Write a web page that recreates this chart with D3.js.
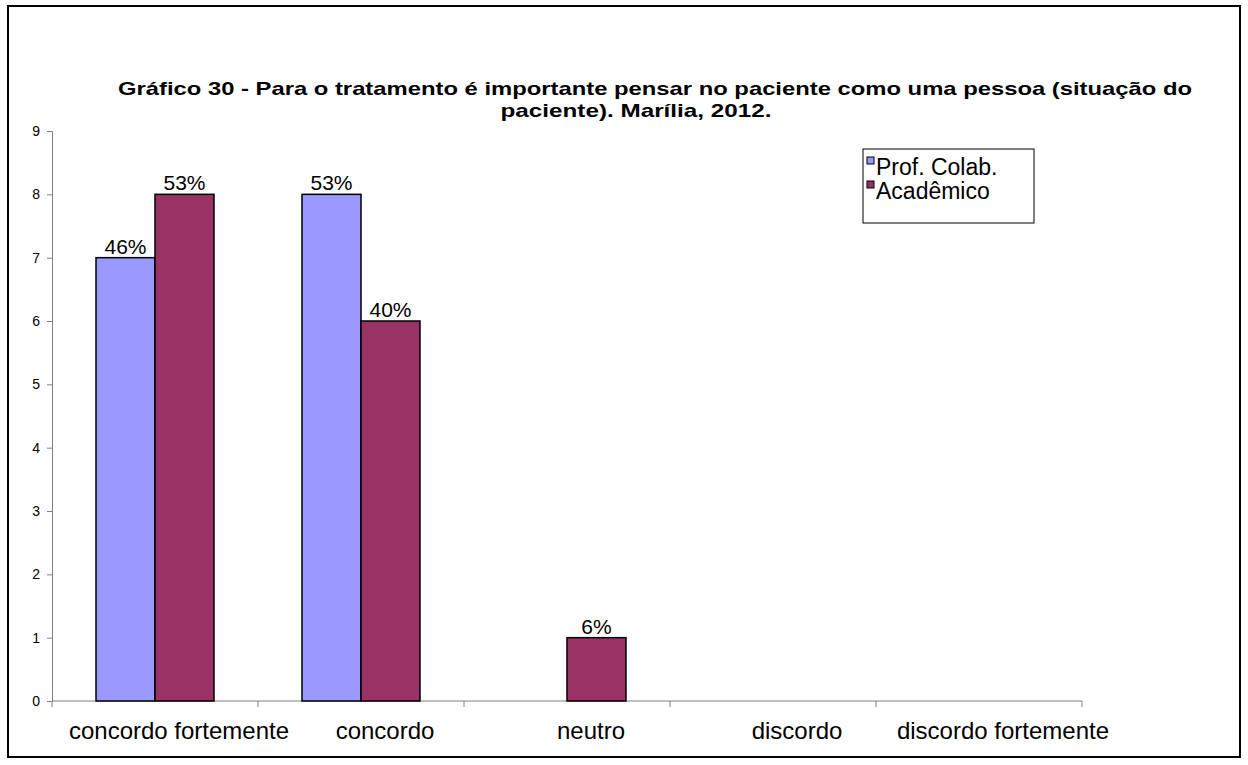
<!DOCTYPE html>
<html><head><meta charset="utf-8">
<script src="https://cdn.jsdelivr.net/npm/d3@7"></script>
<style>body{margin:0;background:#fff}svg{display:block}text{font-family:"Liberation Sans",Arial,sans-serif}</style>
</head><body>
<svg id="c" width="1248" height="765"></svg>
<script>
const categories = ["concordo fortemente","concordo","neutro","discordo","discordo fortemente"];
const seriesNames = ["Prof. Colab.","Acadêmico"];
const profValues = [7,8,0,0,0];
const acadValues = [8,6,1,0,0];
const profLabels = ["46%","53%","","",""];
const acadLabels = ["53%","40%","6%","",""];
const yTicks = [0,1,2,3,4,5,6,7,8,9];
const titleLines = ["Gráfico 30 - Para o tratamento é importante pensar no paciente como uma pessoa (situação do","paciente). Marília, 2012."];
const colors = ["#9999FF","#993366"];

const svg = d3.select("#c");
svg.append("rect").attr("x",8).attr("y",6).attr("width",1232).attr("height",751)
  .attr("fill","#fff").attr("stroke","#000").attr("stroke-width",2);

const x0 = d3.scaleBand().domain(categories).range([52,1082]).padding(0);
const x1 = d3.scaleBand().domain(seriesNames).range([0,x0.bandwidth()]).paddingInner(0).paddingOuter(0.746);
const y = d3.scaleLinear().domain([0,9]).range([701,131]);

// title
svg.append("text").attr("x",655).attr("y",95).attr("text-anchor","middle")
  .attr("font-size",19).attr("font-weight","bold")
  .attr("textLength",1074).attr("lengthAdjust","spacingAndGlyphs").text(titleLines[0]);
svg.append("text").attr("x",636).attr("y",117).attr("text-anchor","middle")
  .attr("font-size",19).attr("font-weight","bold")
  .attr("textLength",271).attr("lengthAdjust","spacingAndGlyphs").text(titleLines[1]);

// axes
const yAxis = svg.append("g").attr("transform","translate(52,0)")
  .call(d3.axisLeft(y).tickValues(yTicks).tickSize(5).tickPadding(7).tickFormat(d3.format("d")));
yAxis.selectAll("path,line").attr("stroke","#808080");
yAxis.selectAll("text").attr("font-size",14).attr("fill","#000").attr("font-family","Liberation Sans, Arial");

const xAxis = svg.append("g").attr("transform","translate(0,701)");
xAxis.append("line").attr("x1",x0.range()[0]).attr("x2",x0.range()[1]).attr("stroke","#808080");
const tickPos = categories.map(c=>x0(c)).concat([x0.range()[1]]);
xAxis.selectAll("line.t").data(tickPos).join("line").attr("class","t")
  .attr("x1",d=>d).attr("x2",d=>d).attr("y1",0).attr("y2",6).attr("stroke","#808080");
xAxis.selectAll("text").data(categories).join("text")
  .attr("x",d=>x0(d)+x0.bandwidth()/2+24).attr("y",38).attr("text-anchor","middle")
  .attr("font-size",24).text(d=>d);

// bars
const series = [
  {name:seriesNames[0], values:profValues, labels:profLabels, color:colors[0]},
  {name:seriesNames[1], values:acadValues, labels:acadLabels, color:colors[1]}
];
series.forEach(s=>{
  const g = svg.append("g");
  const data = categories.map((c,i)=>({c, v:s.values[i], l:s.labels[i]})).filter(d=>d.v>0);
  g.selectAll("rect").data(data).join("rect")
    .attr("x",d=>x0(d.c)+x1(s.name)).attr("width",x1.bandwidth())
    .attr("y",d=>y(d.v)).attr("height",d=>y(0)-y(d.v))
    .attr("fill",s.color).attr("stroke","#000").attr("stroke-width",1.5);
  g.selectAll("text").data(data.filter(d=>d.l)).join("text")
    .attr("x",d=>x0(d.c)+x1(s.name)+x1.bandwidth()/2).attr("y",d=>y(d.v)-4)
    .attr("text-anchor","middle").attr("font-size",21).text(d=>d.l);
});

// legend
const lg = svg.append("g");
lg.append("rect").attr("x",863).attr("y",149).attr("width",171).attr("height",74)
  .attr("fill","#fff").attr("stroke","#000").attr("stroke-width",1);
series.forEach((s,i)=>{
  lg.append("rect").attr("x",867).attr("y",157+i*24).attr("width",7).attr("height",7)
    .attr("fill",s.color).attr("stroke","#000").attr("stroke-width",1);
  lg.append("text").attr("x",876).attr("y",175+i*24).attr("font-size",23).text(s.name);
});
</script>
</body></html>
